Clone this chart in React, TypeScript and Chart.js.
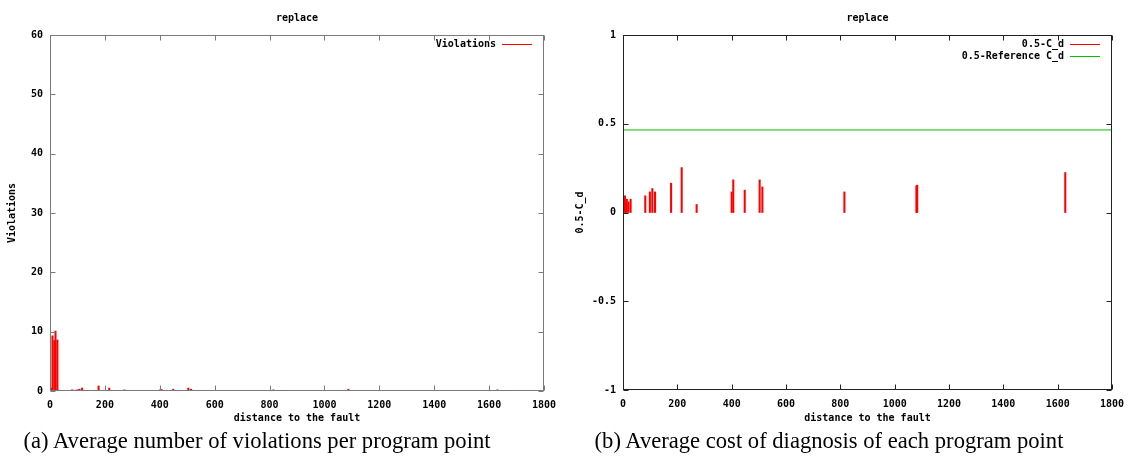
import React, { useEffect, useRef } from "react";
import { Chart, registerables } from "chart.js";

Chart.register(...registerables);

// ---------- data ----------
const xTickValues = [0, 200, 400, 600, 800, 1000, 1200, 1400, 1600, 1800];
const xTickLabels = ["0", "200", "400", "600", "800", "1000", "1200", "1400", "1600", "1800"];

const violationsX = [2, 5, 9, 16, 20, 27, 81, 100, 107, 117, 177, 216, 271, 403, 408, 449, 504, 514, 814, 1087, 1630];
const violationsY = [0.4, 0.5, 9.3, 8.5, 10.1, 8.6, 0.2, 0.2, 0.3, 0.5, 0.85, 0.5, 0.2, 0.3, 0.2, 0.3, 0.5, 0.3, 0.2, 0.3, 0.2];
const violationsYTicks = [0, 10, 20, 30, 40, 50, 60];
const violationsYLabels = ["0", "10", "20", "30", "40", "50", "60"];

const costX = [7, 10, 14, 20, 28, 82, 99, 108, 118, 177, 216, 271, 400, 406, 448, 503, 513, 815, 1080, 1083, 1628];
const costY = [0.094, 0.056, 0.075, 0.06, 0.075, 0.094, 0.116, 0.135, 0.116, 0.165, 0.253, 0.045, 0.116, 0.184, 0.126, 0.184, 0.144, 0.116, 0.15, 0.154, 0.225];
const referenceX = [0, 1800];
const referenceY = [0.465, 0.465];
const costYTicks = [-1, -0.5, 0, 0.5, 1];
const costYLabels = ["-1", "-0.5", "0", "0.5", "1"];

const FONT = "'DejaVu Sans Mono', monospace";

type LegendItem = { text: string; color: string };

function framePlugin(borderColor: string, legend: LegendItem[]) {
  return {
    id: "gnuframe",
    afterDatasetsDraw(chart: any) {
      const { ctx, chartArea: a, scales } = chart;
      const L = Math.round(a.left) + 0.5;
      const R = Math.round(a.right) - 0.5;
      const T = Math.round(a.top) + 0.5;
      const B = Math.round(a.bottom) - 0.5;
      ctx.save();
      ctx.strokeStyle = borderColor;
      ctx.lineWidth = 1;
      ctx.strokeRect(L, T, R - L, B - T);
      ctx.beginPath();
      for (const t of scales.x.ticks) {
        const px = Math.round(scales.x.getPixelForValue(t.value)) + 0.5;
        ctx.moveTo(px, B);
        ctx.lineTo(px, B - 5);
        ctx.moveTo(px, T);
        ctx.lineTo(px, T + 5);
      }
      for (const t of scales.y.ticks) {
        const py = Math.round(scales.y.getPixelForValue(t.value)) + 0.5;
        ctx.moveTo(L, py);
        ctx.lineTo(L + 5, py);
        ctx.moveTo(R, py);
        ctx.lineTo(R - 5, py);
      }
      ctx.stroke();
      // legend (gnuplot style, inside top right)
      ctx.font = `bold 10px ${FONT}`;
      ctx.textAlign = "right";
      ctx.textBaseline = "middle";
      legend.forEach((item, i) => {
        const y = Math.round(a.top + 9 + i * 11.5) + 0.5;
        ctx.fillStyle = "#000";
        ctx.fillText(item.text, a.right - 48, y);
        ctx.strokeStyle = item.color;
        ctx.beginPath();
        ctx.moveTo(a.right - 42, y);
        ctx.lineTo(a.right - 12, y);
        ctx.stroke();
      });
      ctx.restore();
    },
  };
}

function makeOptions(cfg: {
  padRight: number;
  yWidth: number;
  xHeight: number;
  yMin: number;
  yMax: number;
  yTicks: number[];
  yLabels: string[];
  yTitle: string;
  yTitlePad: number;
}) {
  const font = { family: FONT, size: 10, weight: "bold" as const };
  return {
    animation: false as const,
    responsive: false,
    maintainAspectRatio: false,
    layout: { padding: { left: 0, right: cfg.padRight, top: 0, bottom: 0 } },
    plugins: {
      legend: { display: false },
      tooltip: { enabled: false },
      title: {
        display: true,
        text: "replace",
        fullSize: false,
        color: "#000",
        font,
        padding: { top: 12, bottom: 11 },
      },
    },
    scales: {
      x: {
        type: "linear" as const,
        min: 0,
        max: 1800,
        offset: false,
        grid: { display: false, drawTicks: false, offset: false },
        border: { display: false },
        afterBuildTicks: (s: any) => {
          s.ticks = xTickValues.map((v) => ({ value: v }));
        },
        ticks: {
          autoSkip: false,
          maxRotation: 0,
          padding: 8,
          color: "#000",
          font,
          callback: (v: any) => {
            const i = xTickValues.indexOf(Number(v));
            return i >= 0 ? xTickLabels[i] : "";
          },
        },
        title: {
          display: true,
          text: "distance to the fault",
          color: "#000",
          font,
          padding: { top: 6, bottom: 6 },
        },
        afterFit: (s: any) => {
          s.height = cfg.xHeight;
          s.paddingLeft = 0;
          s.paddingRight = 0;
        },
      },
      y: {
        type: "linear" as const,
        min: cfg.yMin,
        max: cfg.yMax,
        grid: { display: false, drawTicks: false },
        border: { display: false },
        afterBuildTicks: (s: any) => {
          s.ticks = cfg.yTicks.map((v) => ({ value: v }));
        },
        ticks: {
          autoSkip: false,
          padding: 7,
          color: "#000",
          font,
          callback: (v: any) => {
            const i = cfg.yTicks.indexOf(Number(v));
            return i >= 0 ? cfg.yLabels[i] : "";
          },
        },
        title: {
          display: true,
          text: cfg.yTitle,
          color: "#000",
          font,
          padding: { top: cfg.yTitlePad, bottom: cfg.yTitlePad },
        },
        afterFit: (s: any) => {
          s.width = cfg.yWidth;
          s.paddingTop = 0;
          s.paddingBottom = 0;
        },
      },
    },
  };
}

function ViolationsChart() {
  const ref = useRef<HTMLCanvasElement | null>(null);
  useEffect(() => {
    if (!ref.current) return;
    const chart = new Chart(ref.current, {
      type: "bar",
      data: {
        datasets: [
          {
            label: "Violations",
            data: violationsX.map((x, i) => ({ x, y: violationsY[i] })),
            backgroundColor: "#ff0000",
            borderWidth: 0,
            barThickness: 1.4,
          } as any,
        ],
      },
      options: makeOptions({
        padRight: 21,
        yWidth: 50,
        xHeight: 39,
        yMin: 0,
        yMax: 60,
        yTicks: violationsYTicks,
        yLabels: violationsYLabels,
        yTitle: "Violations",
        yTitlePad: 6,
      }) as any,
      plugins: [framePlugin("#7a7a7a", [{ text: "Violations", color: "#ff0000" }])],
    });
    return () => chart.destroy();
  }, []);
  return <canvas ref={ref} width={565} height={430} style={{ width: 565, height: 430, display: "block" }} />;
}

function CostChart() {
  const ref = useRef<HTMLCanvasElement | null>(null);
  useEffect(() => {
    if (!ref.current) return;
    const chart = new Chart(ref.current, {
      type: "bar",
      data: {
        datasets: [
          {
            type: "bar",
            label: "0.5-C_d",
            data: costX.map((x, i) => ({ x, y: costY[i] })),
            backgroundColor: "#ff0000",
            borderWidth: 0,
            barThickness: 1.4,
          } as any,
          {
            type: "line",
            label: "0.5-Reference C_d",
            data: referenceX.map((x, i) => ({ x, y: referenceY[i] })),
            borderColor: "#00c000",
            borderWidth: 1,
            pointRadius: 0,
            fill: false,
          } as any,
        ],
      },
      options: makeOptions({
        padRight: 18,
        yWidth: 58,
        xHeight: 40,
        yMin: -1,
        yMax: 1,
        yTicks: costYTicks,
        yLabels: costYLabels,
        yTitle: "0.5-C_d",
        yTitlePad: 9,
      }) as any,
      plugins: [
        framePlugin("#222222", [
          { text: "0.5-C_d", color: "#ff0000" },
          { text: "0.5-Reference C_d", color: "#00c000" },
        ]),
      ],
    });
    return () => chart.destroy();
  }, []);
  return <canvas ref={ref} width={565} height={430} style={{ width: 565, height: 430, display: "block" }} />;
}

const captionStyle: React.CSSProperties = {
  position: "absolute",
  top: 428,
  fontFamily: "'Liberation Serif', 'Times New Roman', serif",
  fontSize: 22.6,
  lineHeight: "26px",
  color: "#000",
  whiteSpace: "nowrap",
  transform: "translateX(-50%)",
};

export default function App() {
  return (
    <div style={{ position: "absolute", left: 0, top: 0, width: 1130, height: 465, background: "#fff", overflow: "hidden" }}>
      <div style={{ position: "absolute", left: 0, top: 0 }}>
        <ViolationsChart />
      </div>
      <div style={{ position: "absolute", left: 565, top: 0 }}>
        <CostChart />
      </div>
      <div style={{ ...captionStyle, left: 257 }}>(a) Average number of violations per program point</div>
      <div style={{ ...captionStyle, left: 829 }}>(b) Average cost of diagnosis of each program point</div>
    </div>
  );
}
